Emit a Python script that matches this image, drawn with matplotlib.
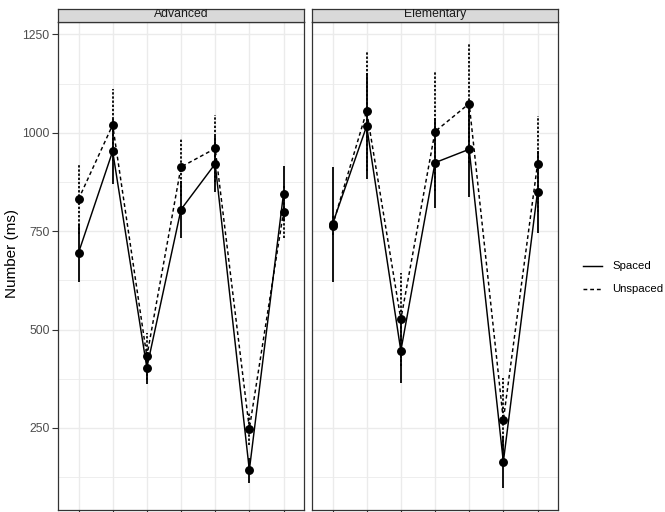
import matplotlib
matplotlib.use("Agg")
import matplotlib.pyplot as plt
from matplotlib.lines import Line2D
import numpy as np

plt.rcParams['font.family'] = ['Liberation Sans', 'DejaVu Sans']

# ---- data ----
categories = [1, 2, 3, 4, 5, 6, 7]
panels = ["Advanced", "Elementary"]
groups = ["Spaced", "Unspaced"]

adv_spaced = [695, 953, 403, 805, 921, 143, 845]
adv_spaced_err = [74, 83, 41, 72, 71, 32, 70]
adv_unspaced = [831, 1020, 432, 913, 960, 248, 799]
adv_unspaced_err = [89, 91, 60, 74, 85, 42, 66]

elem_spaced = [768, 1017, 446, 924, 958, 164, 850]
elem_spaced_err = [146, 134, 81, 114, 121, 66, 104]
elem_unspaced = [764, 1055, 526, 1003, 1074, 270, 920]
elem_unspaced_err = [25, 153, 118, 152, 151, 108, 122]

y_ticks = [250, 500, 750, 1000, 1250]
y_minor = [125, 375, 625, 875, 1125]

# ---- layout ----
W, H = 665, 512
fig = plt.figure(figsize=(W / 100, H / 100), dpi=100)


def rect(l, r, t, b):
    return [l / W, 1 - b / H, (r - l) / W, (b - t) / H]


panel_px = [(58, 304), (312, 558)]
top_px, bot_px = 22, 510
strip_top = 9

series = {
    "Advanced": [(adv_spaced, adv_spaced_err), (adv_unspaced, adv_unspaced_err)],
    "Elementary": [(elem_spaced, elem_spaced_err), (elem_unspaced, elem_unspaced_err)],
}

all_lo = min(min(np.array(v) - np.array(e)) for p in series.values() for v, e in p)
all_hi = max(max(np.array(v) + np.array(e)) for p in series.values() for v, e in p)
pad = 0.05 * (all_hi - all_lo)
ylim = (all_lo - pad, all_hi + pad)

grid_c = "#EBEBEB"
border_c = "#333333"
line_styles = ["-", (0, (2.6, 2.0))]
err_styles = ["-", (0, (1.3, 1.0))]

x = np.arange(1, len(categories) + 1)

for i, name in enumerate(panels):
    l, r = panel_px[i]
    ax = fig.add_axes(rect(l, r, top_px, bot_px))
    ax.set_xlim(0.4, len(categories) + 0.6)
    ax.set_ylim(*ylim)
    ax.set_yticks(y_ticks)
    ax.set_yticks(y_minor, minor=True)
    ax.set_xticks(x)
    ax.set_xticklabels([str(c) for c in categories])
    ax.tick_params(axis="x", labelbottom=False, length=4, width=0.8, color=border_c)
    ax.tick_params(axis="y", length=4, width=0.8, color=border_c,
                   labelsize=8.8, labelcolor="#4D4D4D", pad=2)
    ax.tick_params(axis="y", which="minor", length=0)
    if i > 0:
        ax.tick_params(axis="y", labelleft=False, length=0)
    ax.grid(True, which="major", color=grid_c, linewidth=1.0)
    ax.grid(True, which="minor", axis="y", color=grid_c, linewidth=0.6)
    ax.set_axisbelow(True)
    for s in ax.spines.values():
        s.set_color(border_c)
        s.set_linewidth(0.9)

    for j, (vals, errs) in enumerate(series[name]):
        vals = np.array(vals)
        errs = np.array(errs)
        ax.vlines(x, vals - errs, vals + errs, colors="black",
                  linestyles=[err_styles[j]], linewidth=1.3, zorder=3)
        ax.plot(x, vals, color="black", linestyle=line_styles[j],
                linewidth=1.05, zorder=4)
        ax.plot(x, vals, linestyle="none", marker="o", markersize=5.4,
                color="black", zorder=5)

    # facet strip
    sax = fig.add_axes(rect(l, r, strip_top, top_px))
    sax.set_facecolor("#D9D9D9")
    sax.set_xticks([])
    sax.set_yticks([])
    for s in sax.spines.values():
        s.set_color(border_c)
        s.set_linewidth(0.9)
    t = sax.text(0.5, 0.40, name, transform=sax.transAxes, ha="center",
                 va="baseline", fontsize=8.8, color="#1A1A1A")
    t.set_clip_on(True)
    t.set_clip_path(sax.patch)

# y-axis title
fig.text(12.5 / W, 1 - 254 / H, "Number (ms)", rotation=90, ha="center",
         va="center", fontsize=11, color="black")

# legend
leg_y = [265.7, 289.3]
for j, g in enumerate(groups):
    yy = 1 - leg_y[j] / H
    fig.add_artist(Line2D([583 / W, 602 / W], [yy, yy], color="black",
                          linestyle=line_styles[j], linewidth=1.05))
    fig.text(612 / W, yy, g, ha="left", va="center", fontsize=8.2, color="black")

fig.savefig("out.png", dpi=100)
